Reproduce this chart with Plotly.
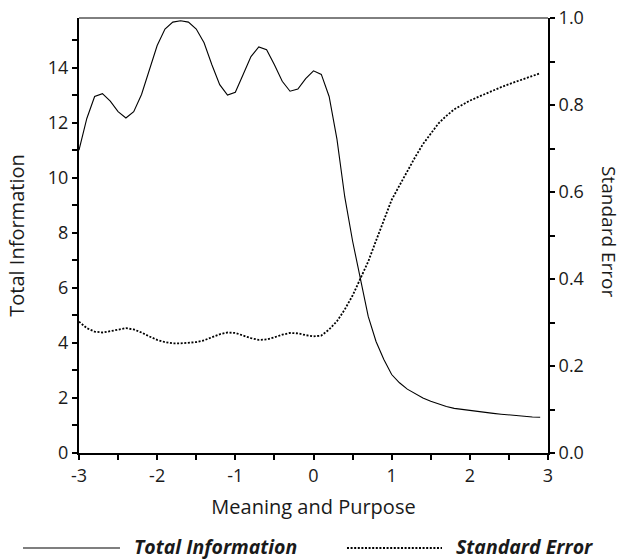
import plotly.graph_objects as go

theta = [round(-3.0 + 0.1 * i, 1) for i in range(60)]

total_information = [
    11.0, 12.15, 12.95, 13.05, 12.78, 12.4, 12.17, 12.4, 13.02, 13.87,
    14.8, 15.4, 15.65, 15.7, 15.65, 15.4, 14.9, 14.1, 13.38, 13.0,
    13.1, 13.75, 14.4, 14.75, 14.65, 14.1, 13.5, 13.14, 13.22, 13.6,
    13.88, 13.75, 12.95, 11.4, 9.3, 7.7, 6.3, 4.96, 4.05, 3.4,
    2.85, 2.55, 2.32, 2.15, 2.0, 1.88, 1.78, 1.69, 1.62, 1.58,
    1.54, 1.5, 1.47, 1.44, 1.41, 1.38, 1.35, 1.33, 1.31, 1.30,
]

standard_error = [
    0.302, 0.287, 0.279, 0.277, 0.280, 0.284, 0.287, 0.284, 0.277, 0.268,
    0.260, 0.255, 0.252, 0.252, 0.253, 0.255, 0.259, 0.266, 0.273, 0.277,
    0.276, 0.270, 0.264, 0.260, 0.261, 0.266, 0.272, 0.276, 0.275, 0.271,
    0.268, 0.270, 0.284, 0.303, 0.330, 0.362, 0.400, 0.440, 0.488, 0.535,
    0.582, 0.615, 0.648, 0.680, 0.710, 0.735, 0.758, 0.775, 0.790, 0.800,
    0.810, 0.818, 0.826, 0.834, 0.841, 0.848, 0.854, 0.861, 0.867, 0.873,
]

x_ticks = [-3, -2, -1, 0, 1, 2, 3]
left_ticks = [0, 2, 4, 6, 8, 10, 12, 14]
right_ticks = [0.0, 0.2, 0.4, 0.6, 0.8, 1.0]

FONT = "Open Sans"
TXT = "#1a1a1a"

fig = go.Figure()
fig.add_trace(go.Scatter(x=theta, y=total_information, mode="lines",
                         line=dict(color="black", width=1.1),
                         name="Total Information", xaxis="x", yaxis="y"))
fig.add_trace(go.Scatter(x=theta, y=standard_error, mode="lines",
                         line=dict(color="black", width=1.8, dash="2px,1.6px"),
                         name="Standard Error", xaxis="x", yaxis="y2"))

tickfont = dict(family=FONT, size=18, color=TXT)
common = dict(showgrid=False, zeroline=False)

fig.update_layout(
    width=623, height=559,
    margin=dict(l=79, r=75, t=18, b=106),
    paper_bgcolor="white", plot_bgcolor="white",
    showlegend=False,
    xaxis=dict(range=[-3, 3], tickvals=x_ticks, ticktext=[str(v) for v in x_ticks],
               ticks="outside", ticklen=5, tickwidth=2, tickcolor="black",
               minor=dict(dtick=0.5, tick0=-3, ticks="outside", ticklen=5, tickwidth=2, tickcolor="black"),
               showline=True, linewidth=2, linecolor="black",
               tickfont=tickfont,
               title=dict(text="Meaning and Purpose", font=dict(family=FONT, size=20, color=TXT), standoff=14),
               automargin=False, **common),
    xaxis2=dict(range=[-3, 3], overlaying="x", anchor="y", side="bottom",
                tickvals=x_ticks, ticks="inside", ticklen=5, tickwidth=2, tickcolor="black",
                minor=dict(dtick=0.5, tick0=-3, ticks="inside", ticklen=5, tickwidth=2, tickcolor="black"),
                showticklabels=False, showline=False, **common),
    yaxis=dict(range=[0, 15.8], tickvals=left_ticks, ticktext=[str(v) for v in left_ticks],
               ticks="outside", ticklen=5, tickwidth=2, tickcolor="black",
               minor=dict(dtick=1, tick0=0, ticks="outside", ticklen=5, tickwidth=2, tickcolor="black"),
               showline=True, linewidth=2, linecolor="black",
               tickfont=tickfont,
               title=dict(text="Total Information", font=dict(family=FONT, size=20, color=TXT), standoff=18),
               automargin=False, **common),
    yaxis3=dict(range=[0, 15.8], overlaying="y", anchor="x", side="left",
                tickvals=left_ticks, ticks="inside", ticklen=5, tickwidth=2, tickcolor="black",
                minor=dict(dtick=1, tick0=0, ticks="inside", ticklen=5, tickwidth=2, tickcolor="black"),
                showticklabels=False, showline=False, **common),
    yaxis2=dict(range=[0, 1], overlaying="y", anchor="x", side="right",
                tickvals=right_ticks, ticktext=[f"{v:.1f}" for v in right_ticks],
                ticks="outside", ticklen=5, tickwidth=2, tickcolor="black",
                minor=dict(dtick=0.1, tick0=0, ticks="outside", ticklen=5, tickwidth=2, tickcolor="black"),
                showline=True, linewidth=2, linecolor="black",
                tickfont=tickfont, automargin=False, **common),
    yaxis4=dict(range=[0, 1], overlaying="y", anchor="x", side="right",
                tickvals=right_ticks, ticks="inside", ticklen=5, tickwidth=2, tickcolor="black",
                minor=dict(dtick=0.1, tick0=0, ticks="inside", ticklen=5, tickwidth=2, tickcolor="black"),
                showticklabels=False, showline=False, **common),
)

# thin top border of the plot frame
fig.add_shape(type="line", xref="paper", yref="paper", x0=0, x1=1, y0=1, y1=1,
              line=dict(color="black", width=1))

# right-hand axis title (reads top to bottom)
fig.add_annotation(text="Standard Error", xref="paper", yref="paper",
                   x=1.130, y=0.508, textangle=90, showarrow=False,
                   font=dict(family=FONT, size=19, color=TXT),
                   xanchor="center", yanchor="middle", borderpad=0)

# manual legend below the chart
leg_y = -0.2145
fig.add_shape(type="line", xref="paper", yref="paper", x0=-0.1194, x1=0.0874,
              y0=-0.2184, y1=-0.2184, line=dict(color="black", width=1.1))
fig.add_annotation(text="<b><i>Total Information</i></b>", xref="paper", yref="paper",
                   x=0.1151, y=leg_y, xanchor="left", yanchor="middle", showarrow=False,
                   font=dict(family=FONT, size=19.5, color=TXT), borderpad=0)
fig.add_shape(type="line", xref="paper", yref="paper", x0=0.5714, x1=0.774,
              y0=-0.2184, y1=-0.2184, line=dict(color="black", width=1.8, dash="2px,1.6px"))
fig.add_annotation(text="<b><i>Standard Error</i></b>", xref="paper", yref="paper",
                   x=0.8017, y=leg_y, xanchor="left", yanchor="middle", showarrow=False,
                   font=dict(family=FONT, size=19.5, color=TXT), borderpad=0)

fig.write_html("out.html", config={"displayModeBar": False},
               post_script="document.body.style.margin='0';document.body.style.overflow='hidden';")
